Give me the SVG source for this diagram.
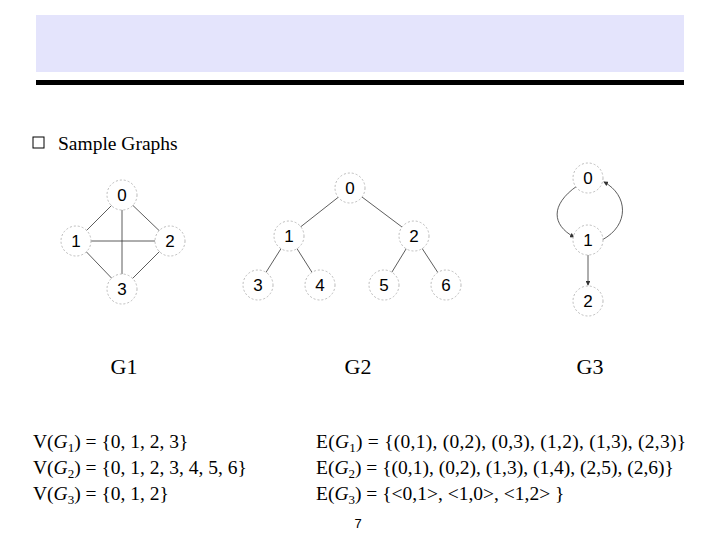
<svg xmlns="http://www.w3.org/2000/svg" width="720" height="540" viewBox="0 0 720 540">
<style>
.n circle{fill:#fff;stroke:#bbb;stroke-width:1;stroke-dasharray:2,2}
.n text{font-family:"Liberation Sans",sans-serif;font-size:17px;text-anchor:middle;fill:#000}
.e line,.e path{stroke:#333;stroke-width:0.8;fill:none}
.t{font-family:"Liberation Serif",serif;font-size:19.5px;fill:#000}
.g{font-family:"Liberation Serif",serif;font-size:22px;text-anchor:middle}
</style>
<defs><marker id="a" markerWidth="6" markerHeight="6" refX="5" refY="3" orient="auto"><path d="M0,0L6,3L0,6z" fill="#333"/></marker></defs>
<rect x="36" y="15" width="648" height="57" fill="#e4e4fc"/>
<rect x="36" y="80" width="648" height="5" fill="#000"/>
<rect x="33" y="137" width="11" height="11" fill="#fff" stroke="#000"/>
<text class="t" x="58" y="150" font-size="21">Sample Graphs</text>
<g class="e">
<line x1="122" y1="195" x2="76" y2="241"/><line x1="122" y1="195" x2="170" y2="241"/>
<line x1="76" y1="241" x2="122" y2="289"/><line x1="170" y1="241" x2="122" y2="289"/>
<line x1="122" y1="195" x2="122" y2="289" stroke-width="1.3"/><line x1="76" y1="241" x2="170" y2="241" stroke-width="1.3"/>
<line x1="350" y1="188" x2="289" y2="236"/><line x1="350" y1="188" x2="414" y2="236"/>
<line x1="289" y1="236" x2="258" y2="285"/><line x1="289" y1="236" x2="320" y2="285"/>
<line x1="414" y1="236" x2="384" y2="285"/><line x1="414" y1="236" x2="446" y2="285"/>
<path d="M577,186 C550,205 552,225 574,237" marker-end="url(#a)" stroke="#aaa"/>
<path d="M602,240 C630,225 628,195 604,182" marker-end="url(#a)" stroke="#aaa"/>
<line x1="588" y1="255" x2="588" y2="285" marker-end="url(#a)"/>
</g>
<g class="n" id="g1n0"><circle cx="122" cy="195" r="15"/><text x="122" y="201">0</text></g>
<g class="n" id="g1n1"><circle cx="76" cy="241" r="15"/><text x="76" y="247">1</text></g>
<g class="n" id="g1n2"><circle cx="170" cy="241" r="15"/><text x="170" y="247">2</text></g>
<g class="n" id="g1n3"><circle cx="122" cy="289" r="15"/><text x="122" y="295">3</text></g>
<g class="n" id="g2n0"><circle cx="350" cy="188" r="15"/><text x="350" y="194">0</text></g>
<g class="n" id="g2n1"><circle cx="289" cy="236" r="15"/><text x="289" y="242">1</text></g>
<g class="n" id="g2n2"><circle cx="414" cy="236" r="15"/><text x="414" y="242">2</text></g>
<g class="n" id="g2n3"><circle cx="258" cy="285" r="15"/><text x="258" y="291">3</text></g>
<g class="n" id="g2n4"><circle cx="320" cy="285" r="15"/><text x="320" y="291">4</text></g>
<g class="n" id="g2n5"><circle cx="384" cy="285" r="15"/><text x="384" y="291">5</text></g>
<g class="n" id="g2n6"><circle cx="446" cy="285" r="15"/><text x="446" y="291">6</text></g>
<g class="n" id="g3n0"><circle cx="588" cy="178" r="15"/><text x="588" y="184">0</text></g>
<g class="n" id="g3n1"><circle cx="588" cy="240" r="15"/><text x="588" y="246">1</text></g>
<g class="n" id="g3n2"><circle cx="588" cy="301" r="15"/><text x="588" y="307">2</text></g>
<text class="g" x="124" y="374">G1</text>
<text class="g" x="358" y="374">G2</text>
<text class="g" x="590" y="374">G3</text>
<text class="t" x="33" y="448">V(<tspan font-style="italic">G</tspan><tspan font-size="13" dy="4">1</tspan><tspan dy="-4">) = {0, 1, 2, 3}</tspan></text>
<text class="t" x="33" y="474">V(<tspan font-style="italic">G</tspan><tspan font-size="13" dy="4">2</tspan><tspan dy="-4">) = {0, 1, 2, 3, 4, 5, 6}</tspan></text>
<text class="t" x="33" y="500">V(<tspan font-style="italic">G</tspan><tspan font-size="13" dy="4">3</tspan><tspan dy="-4">) = {0, 1, 2}</tspan></text>
<text class="t" x="316" y="448" textLength="370">E(<tspan font-style="italic">G</tspan><tspan font-size="13" dy="4">1</tspan><tspan dy="-4">) = {(0,1), (0,2), (0,3), (1,2), (1,3), (2,3)}</tspan></text>
<text class="t" x="316" y="474">E(<tspan font-style="italic">G</tspan><tspan font-size="13" dy="4">2</tspan><tspan dy="-4">) = {(0,1), (0,2), (1,3), (1,4), (2,5), (2,6)}</tspan></text>
<text class="t" x="316" y="500">E(<tspan font-style="italic">G</tspan><tspan font-size="13" dy="4">3</tspan><tspan dy="-4">) = {&lt;0,1&gt;, &lt;1,0&gt;, &lt;1,2&gt; }</tspan></text>
<text x="358" y="528" font-family="Liberation Sans,sans-serif" font-size="13" text-anchor="middle">7</text>
</svg>
